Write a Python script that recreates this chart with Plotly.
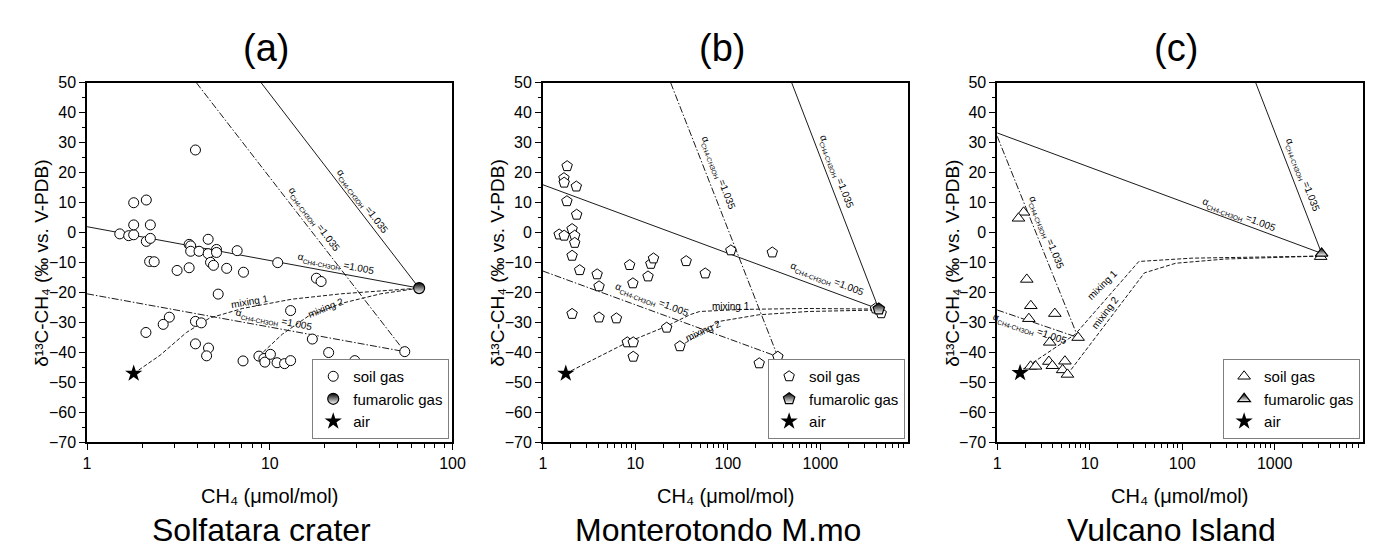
import numpy as np
import plotly.graph_objects as go

FONT = "Liberation Sans, Arial, sans-serif"
W, H = 1375, 551

# ---------------- Panel (a) Solfatara crater ----------------
a_soil_x = [1.51, 1.69, 1.80, 1.80, 2.11, 1.80, 2.22, 2.11, 2.22, 2.20, 2.33, 3.11, 3.62, 3.69, 3.69,
            3.62, 4.10, 4.60, 4.60, 5.11, 5.11, 4.74, 4.92, 5.81, 6.63, 7.18, 5.22, 11.05, 18.0, 19.1,
            13.0, 3.92, 2.82, 2.61, 2.10, 3.92, 4.22, 3.92, 4.62, 4.51, 7.14, 8.72, 9.29, 9.40, 10.08,
            10.96, 12.05, 13.0, 17.1, 21.0, 29.2, 29.2, 54.8]
a_soil_y = [-0.4, -1.0, -0.7, 10.0, 10.9, 2.6, 2.6, -2.9, -1.9, -9.6, -9.7, -12.6, -3.9, -4.4, -6.2,
            -11.7, -6.2, -2.2, -7.0, -5.6, -6.6, -9.9, -10.9, -11.9, -6.0, -13.2, -20.5, -10.0, -15.2, -16.3,
            -26.0, 27.6, -28.2, -30.6, -33.3, -29.6, -30.1, -37.1, -38.5, -41.1, -42.8, -41.2, -42.0, -43.2, -40.6,
            -43.4, -43.7, -42.7, -35.5, -40.0, -42.7, -47.0, -39.7]
a_fum_x, a_fum_y = [65.7], [-18.5]
a_air_x, a_air_y = [1.8], [-47.0]
a_r1005_x, a_r1005_y = [1, 65.7], [2.0, -18.5]
a_r1035_x, a_r1035_y = [8.98, 65.7], [50, -18.5]
a_r1005b_x, a_r1005b_y = [1, 54.8], [-20.4, -39.7]
a_r1035b_x, a_r1035b_y = [3.97, 54.8], [50, -39.7]
a_mix1_x = [1.8, 2.51, 3.50, 4.68, 7.08, 13.2, 24.6, 45.8, 65.7]
a_mix1_y = [-47.0, -40.9, -33.3, -28.5, -25.3, -22.2, -20.4, -19.1, -18.5]
a_mix2_x = [8.72, 11.7, 16.2, 24.6, 40.5, 65.7]
a_mix2_y = [-41.2, -33.9, -27.9, -23.6, -20.4, -18.5]

# ---------------- Panel (b) Monterotondo M.mo ----------------
b_soil_x = [1.83, 1.69, 1.70, 2.30, 1.82, 2.32, 1.50, 1.70, 2.07, 2.21, 2.21, 2.07, 2.50, 3.86, 4.05,
            8.67, 9.40, 13.7, 14.7, 15.7, 35.4, 56.9, 107.7, 302, 2.07, 4.05, 6.24, 21.8, 8.18, 9.48,
            9.48, 30.3, 218, 347, 3950, 4540]
b_soil_y = [22.2, 18.2, 16.7, 15.4, 10.5, 6.0, -0.6, -1.0, 1.2, -1.0, -3.4, -7.7, -12.5, -13.9, -17.9,
            -10.8, -16.9, -14.6, -10.4, -8.6, -9.5, -13.6, -5.9, -6.6, -27.1, -28.3, -28.6, -31.7, -36.6, -36.6,
            -41.4, -37.9, -43.6, -41.4, -25.3, -26.9]
b_fum_x, b_fum_y = [4276], [-25.5]
b_air_x, b_air_y = [1.77], [-47.0]
b_r1005_x, b_r1005_y = [1, 4276], [16.0, -25.5]
b_r1035_x, b_r1035_y = [490, 4276], [50, -25.5]
b_r1005b_x, b_r1005b_y = [1, 347], [-12.8, -41.4]
b_r1035b_x, b_r1035b_y = [24.1, 347], [50, -41.4]
b_mix1_x = [1.77, 8.18, 21.8, 38.7, 49.5, 143, 738, 4276]
b_mix1_y = [-47.0, -36.6, -31.2, -27.4, -26.3, -25.6, -25.3, -25.5]
b_mix2_x = [30.3, 35.7, 81, 216, 738, 4276]
b_mix2_y = [-37.9, -36.6, -29.6, -27.4, -26.3, -25.8]

# ---------------- Panel (c) Vulcano Island ----------------
c_soil_x = [1.93, 1.70, 2.09, 2.31, 2.20, 4.20, 3.70, 7.5, 2.30, 2.60, 3.62, 3.95, 5.40, 5.10, 5.75, 3140]
c_soil_y = [6.8, 4.8, -15.6, -24.4, -28.7, -27.0, -36.6, -35.0, -44.6, -44.6, -43.0, -44.4, -42.9, -45.8, -47.3, -8.0]
c_fum_x, c_fum_y = [3215], [-6.9]
c_air_x, c_air_y = [1.77], [-46.8]
c_r1005_x, c_r1005_y = [1, 3215], [33.3, -6.9]
c_r1035_x, c_r1035_y = [624, 3215], [50, -6.9]
c_r1005b_x, c_r1005b_y = [1, 7.5], [-25.8, -35.0]
c_r1035b_x, c_r1035b_y = [1, 7.5], [32.2, -35.0]
c_mix1_x = [1.9, 6.98, 34, 128, 3215]
c_mix1_y = [-45.6, -33.9, -9.6, -8.5, -7.8]
c_mix2_x = [5.75, 39.1, 85, 291, 3215]
c_mix2_y = [-47.3, -13.4, -10.2, -8.8, -7.8]

panel_titles = ["(a)", "(b)", "(c)"]
site_names = ["Solfatara crater", "Monterotondo M.mo", "Vulcano Island"]
legend_names = ["soil gas", "fumarolic gas", "air"]

fig = go.Figure()

LINE_C = "#1a1a1a"
SOLID = dict(color=LINE_C, width=1)
DASHDOT = dict(color=LINE_C, width=1, dash="7px,2px,1.5px,2px")
MIX = dict(color=LINE_C, width=1, dash="4px,2px")

panels = [
    dict(ax="", leg="legend", soil_sym="circle", fum_sym="circle", soil_size=10, fum_size=11,
         soil=(a_soil_x, a_soil_y), fum=(a_fum_x, a_fum_y), air=(a_air_x, a_air_y),
         lines=[(a_r1005_x, a_r1005_y, SOLID), (a_r1035_x, a_r1035_y, SOLID),
                (a_r1005b_x, a_r1005b_y, DASHDOT), (a_r1035b_x, a_r1035b_y, DASHDOT),
                (a_mix1_x, a_mix1_y, MIX), (a_mix2_x, a_mix2_y, MIX)]),
    dict(ax="2", leg="legend2", soil_sym="pentagon", fum_sym="pentagon", soil_size=11, fum_size=12,
         soil=(b_soil_x, b_soil_y), fum=(b_fum_x, b_fum_y), air=(b_air_x, b_air_y),
         lines=[(b_r1005_x, b_r1005_y, SOLID), (b_r1035_x, b_r1035_y, SOLID),
                (b_r1005b_x, b_r1005b_y, DASHDOT), (b_r1035b_x, b_r1035b_y, DASHDOT),
                (b_mix1_x, b_mix1_y, MIX), (b_mix2_x, b_mix2_y, MIX)]),
    dict(ax="3", leg="legend3", soil_sym="triangle-up", fum_sym="triangle-up", soil_size=11, fum_size=11,
         soil=(c_soil_x, c_soil_y), fum=(c_fum_x, c_fum_y), air=(c_air_x, c_air_y),
         lines=[(c_r1005_x, c_r1005_y, SOLID), (c_r1035_x, c_r1035_y, SOLID),
                (c_r1005b_x, c_r1005b_y, DASHDOT), (c_r1035b_x, c_r1035b_y, DASHDOT),
                (c_mix1_x, c_mix1_y, MIX), (c_mix2_x, c_mix2_y, MIX)]),
]

for p in panels:
    xa, ya = "x" + p["ax"], "y" + p["ax"]
    for lx, ly, ls in p["lines"]:
        fig.add_trace(go.Scatter(x=lx, y=ly, mode="lines", line=ls, xaxis=xa, yaxis=ya,
                                 showlegend=False, hoverinfo="skip"))
    fig.add_trace(go.Scatter(x=p["soil"][0], y=p["soil"][1], mode="markers", name=legend_names[0],
                             marker=dict(symbol=p["soil_sym"], size=p["soil_size"], color="white",
                                         line=dict(color="black", width=1)),
                             xaxis=xa, yaxis=ya, legend=p["leg"]))
    fig.add_trace(go.Scatter(x=p["fum"][0], y=p["fum"][1], mode="markers", name=legend_names[1],
                             marker=dict(symbol=p["fum_sym"], size=p["fum_size"], color="black",
                                         gradient=dict(type="vertical", color="white"),
                                         line=dict(color="black", width=1.2)),
                             xaxis=xa, yaxis=ya, legend=p["leg"]))
    fig.add_trace(go.Scatter(x=p["air"][0], y=p["air"][1], mode="markers", name=legend_names[2],
                             marker=dict(symbol="star", size=13, color="black",
                                         line=dict(color="black", width=0)),
                             xaxis=xa, yaxis=ya, legend=p["leg"]))

x_domains = [(76, 446), (537.5, 907.5), (997.5, 1367.5)]
x_ranges = [[0, 2], [0, 3.95], [0, 3.95]]
y_dom = [(H - 440) / H, (H - 69) / H]
tickfont = dict(family=FONT, size=16, color="black")

layout = dict(
    width=W, height=H, margin=dict(l=0, r=0, t=0, b=0),
    paper_bgcolor="white", plot_bgcolor="white",
    font=dict(family=FONT, color="black"),
)
for i, (dom, rng) in enumerate(zip(x_domains, x_ranges)):
    s = "" if i == 0 else str(i + 1)
    layout["xaxis" + s] = dict(
        type="log", domain=[dom[0] / W, dom[1] / W], range=rng, anchor="y" + s,
        showline=True, linecolor="black", linewidth=1.5, mirror=True,
        ticks="outside", ticklen=6, tickwidth=1.2, tickcolor="black",
        tickmode="linear", tick0=0, dtick=1, exponentformat="none",
        showgrid=False, zeroline=False, tickfont=tickfont,
        minor=dict(ticks="outside", ticklen=3.5, tickwidth=1, tickcolor="black", dtick="D1", showgrid=False),
    )
    layout["yaxis" + s] = dict(
        domain=y_dom, range=[-70, 50], anchor="x" + s,
        showline=True, linecolor="black", linewidth=1.5, mirror=True,
        ticks="outside", ticklen=6, tickwidth=1.2, tickcolor="black",
        tickmode="linear", tick0=-70, dtick=10,
        showgrid=False, zeroline=False, tickfont=tickfont,
        minor=dict(ticks="outside", ticklen=3.5, tickwidth=1, tickcolor="black", dtick=5, showgrid=False),
    )

leg_right = [442.7, 904.3, 1365]
for i, xr in enumerate(leg_right):
    key = "legend" if i == 0 else "legend" + str(i + 1)
    layout[key] = dict(x=xr / W, y=(H - 436.5) / H, xanchor="right", yanchor="bottom",
                       bgcolor="white", bordercolor="#7f7f7f", borderwidth=1,
                       font=dict(family=FONT, size=15, color="black"),
                       tracegroupgap=0, itemwidth=30)

fig.update_layout(**layout)

ann = []
def A(text, px, py, size, angle=0):
    """Text annotation centred at a pixel position of the 1375x551 page."""
    ann.append(dict(text=text, xref="paper", yref="paper", x=px / W, y=(H - py) / H,
                    showarrow=False, textangle=angle, xanchor="center", yanchor="middle",
                    font=dict(family=FONT, size=size, color="black")))

for i, (dom, t, n) in enumerate(zip(x_domains, panel_titles, site_names)):
    cx = (dom[0] + dom[1]) / 2
    A(t, cx - 4, 33, 38)
    A(n, cx - 8, 530, 32)
    A("CH\u2084 (\u03bcmol/mol)", cx, 495, 20)
    A("\u03b4\u00b9\u00b3C-CH\u2084 (\u2030 vs. V-PDB)", dom[0] - 46, 255, 19, angle=-90)

SUB = "<span style='font-size:6.5px;baseline-shift:-3px'>CH4-CH3OH</span>"
alpha5 = "\u03b1" + SUB + " =1.005"
alpha35 = "\u03b1" + SUB + " =1.035"
LS = 10
# panel (a) labels
A(alpha35, 354, 191.7, LS, 53)
A(alpha35, 305.3, 210, LS, 53)
A(alpha5, 328.3, 256.7, LS, 11)
A(alpha5, 265.7, 314.7, LS, 11)
A("mixing 1", 240.7, 295, LS, -10)
A("mixing 2", 318.3, 301, LS, -22)
# panel (b)
A(alpha35, 834, 160.7, LS, 69)
A(alpha35, 715, 162.3, LS, 69)
A(alpha5, 825, 272.3, LS, 21)
A(alpha5, 648.3, 293.3, LS, 21)
A("mixing 1", 727.7, 299.3, LS, 0)
A("mixing 2", 700, 324, LS, -25)
# panel (c)
A(alpha35, 1305.7, 164, LS, 69)
A(alpha35, 1047.3, 224, LS, 68)
A(alpha5, 1242.3, 205.7, LS, 21)
A(alpha5, 1030.7, 323.3, LS, 19)
A("mixing 1", 1104, 276.7, LS, -45)
A("mixing 2", 1106.7, 305.7, LS, -53)

fig.update_layout(annotations=ann)
fig.write_html("out.html")
